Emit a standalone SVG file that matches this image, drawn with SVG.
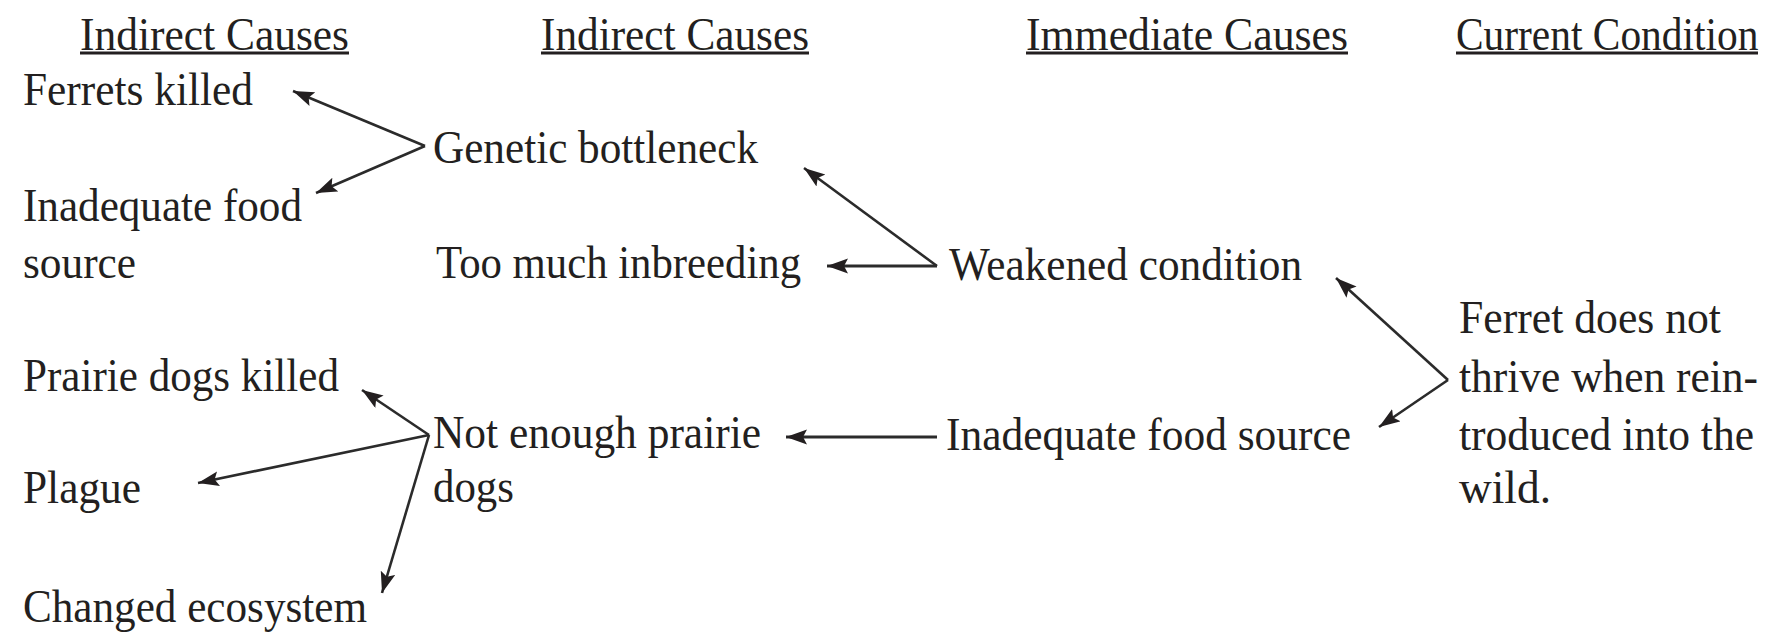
<svg xmlns="http://www.w3.org/2000/svg" width="1773" height="632" viewBox="0 0 1773 632">
<style>
text{font-family:"Liberation Serif","Times New Roman",serif;font-size:46px;fill:#231f20}
.ul{stroke:#231f20;stroke-width:3}
.c{stroke:#2b2b2b;stroke-width:2.6;fill:none;marker-end:url(#ah)}
.h{stroke-width:3.2}
</style>
<defs>
<marker id="ah" markerUnits="userSpaceOnUse" markerWidth="24" markerHeight="16" refX="21" refY="7.5" orient="auto">
<path d="M0,0 L21,7.5 L0,15 L4,7.5 Z" fill="#231f20"/>
</marker>
</defs>
<rect width="1773" height="632" fill="#fff"/>
<g id="headers">
<text x="80" y="50" textLength="269" lengthAdjust="spacingAndGlyphs">Indirect Causes</text>
<line class="ul" x1="80" y1="53" x2="349" y2="53"/>
<text x="541" y="50" textLength="268" lengthAdjust="spacingAndGlyphs">Indirect Causes</text>
<line class="ul" x1="541" y1="53" x2="809" y2="53"/>
<text x="1026" y="50" textLength="322" lengthAdjust="spacingAndGlyphs">Immediate Causes</text>
<line class="ul" x1="1026" y1="53" x2="1348" y2="53"/>
<text transform="translate(1456,50) scale(0.9,1)" x="0" y="0">Current Condition</text>
<line class="ul" x1="1456" y1="53" x2="1758" y2="53"/>
</g>
<g id="ferrets-killed"><text x="23" y="105" textLength="230" lengthAdjust="spacingAndGlyphs">Ferrets killed</text></g>
<g id="genetic-bottleneck"><text x="433" y="163" textLength="325" lengthAdjust="spacingAndGlyphs">Genetic bottleneck</text></g>
<g id="inadequate-food-1"><text x="23" y="221" textLength="279" lengthAdjust="spacingAndGlyphs">Inadequate food</text><text x="23" y="278" textLength="113" lengthAdjust="spacingAndGlyphs">source</text></g>
<g id="too-much-inbreeding"><text x="436" y="278" textLength="365" lengthAdjust="spacingAndGlyphs">Too much inbreeding</text></g>
<g id="weakened-condition"><text x="949" y="280" textLength="353" lengthAdjust="spacingAndGlyphs">Weakened condition</text></g>
<g id="ferret-does-not-thrive">
<text x="1459" y="333" textLength="262" lengthAdjust="spacingAndGlyphs">Ferret does not</text>
<text x="1459" y="392" textLength="299" lengthAdjust="spacingAndGlyphs">thrive when rein-</text>
<text x="1459" y="450" textLength="295" lengthAdjust="spacingAndGlyphs">troduced into the</text>
<text x="1459" y="503" textLength="92" lengthAdjust="spacingAndGlyphs">wild.</text>
</g>
<g id="inadequate-food-2"><text x="946" y="450" textLength="405" lengthAdjust="spacingAndGlyphs">Inadequate food source</text></g>
<g id="prairie-dogs-killed"><text x="23" y="391" textLength="316" lengthAdjust="spacingAndGlyphs">Prairie dogs killed</text></g>
<g id="not-enough-prairie-dogs"><text x="433" y="448" textLength="328" lengthAdjust="spacingAndGlyphs">Not enough prairie</text><text x="433" y="502" textLength="81" lengthAdjust="spacingAndGlyphs">dogs</text></g>
<g id="plague"><text x="23" y="503" textLength="118" lengthAdjust="spacingAndGlyphs">Plague</text></g>
<g id="changed-ecosystem"><text x="23" y="622" textLength="344" lengthAdjust="spacingAndGlyphs">Changed ecosystem</text></g>
<g id="connectors">
<line class="c" x1="425" y1="146" x2="293" y2="91"/>
<line class="c" x1="425" y1="146" x2="316" y2="193"/>
<line class="c" x1="937" y1="266" x2="804" y2="168"/>
<line class="c h" x1="937" y1="266" x2="827" y2="266"/>
<line class="c" x1="1448" y1="380" x2="1336" y2="278"/>
<line class="c" x1="1448" y1="380" x2="1379" y2="427"/>
<line class="c h" x1="937" y1="437" x2="786" y2="437"/>
<line class="c" x1="429" y1="435" x2="362" y2="390"/>
<line class="c" x1="429" y1="435" x2="198" y2="483"/>
<line class="c" x1="429" y1="435" x2="382" y2="593"/>
</g>
</svg>
